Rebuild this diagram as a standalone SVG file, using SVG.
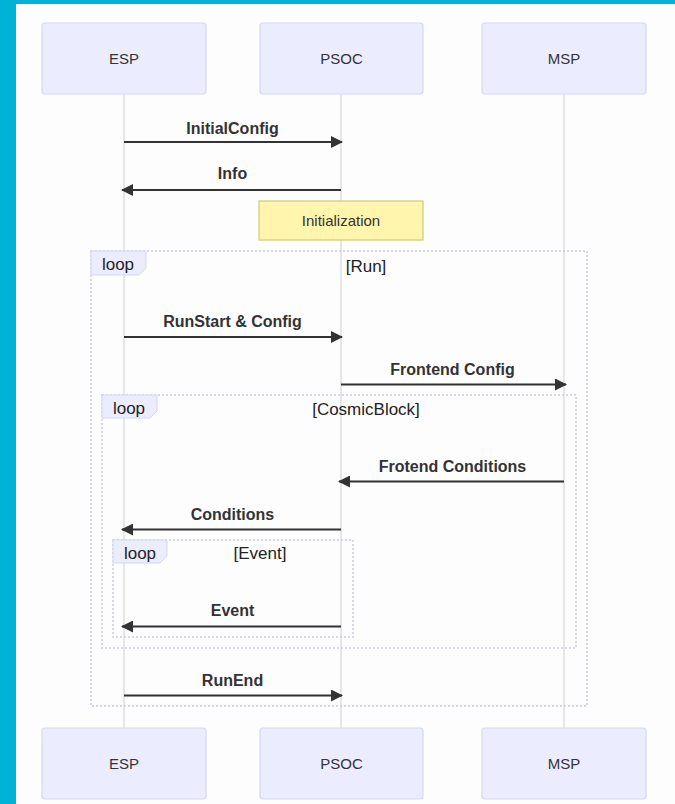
<svg xmlns="http://www.w3.org/2000/svg" width="675" height="804" viewBox="0 0 675 804">
<defs>
<style>
.actor{fill:#ececff;stroke:#d6d6f2;stroke-width:1.2}
.actorText{font-family:"Liberation Sans",Arial,sans-serif;font-size:15px;fill:#333;text-anchor:middle}
.life{stroke:#dedede;stroke-width:1.5}
.msg{stroke:#333;stroke-width:2;fill:none}
.msgText{font-family:"Liberation Sans",Arial,sans-serif;font-size:16px;font-weight:bold;fill:#333;text-anchor:middle}
.loopBox{fill:none;stroke:#c9c9e6;stroke-width:1.5;stroke-dasharray:2 2}
.labelBox{fill:#ececff;stroke:#d6d6f2;stroke-width:1}
.loopText{font-family:"Liberation Sans",Arial,sans-serif;font-size:17px;fill:#222}
.note{fill:#fff5ad;stroke:#cccc77;stroke-width:1.2}
.noteText{font-family:"Liberation Sans",Arial,sans-serif;font-size:15px;fill:#333;text-anchor:middle}
</style>
<marker id="arrow" viewBox="0 0 12 12" refX="11" refY="6" markerWidth="12" markerHeight="12" markerUnits="userSpaceOnUse" orient="auto">
<path d="M0,0 L12,6 L0,12 Z" fill="#333"/>
</marker>
</defs>
<rect x="0" y="0" width="675" height="804" fill="#00b2d6"/>
<rect x="16" y="4" width="659" height="800" fill="#fdfdfd"/>

<g id="lifelines">
<line class="life" x1="124" y1="94" x2="124" y2="728"/>
<line class="life" x1="341" y1="94" x2="341" y2="728"/>
<line class="life" x1="564" y1="94" x2="564" y2="728"/>
</g>

<g id="actor-esp-top"><rect class="actor" x="42" y="23" width="164" height="71" rx="3"/><text class="actorText" x="124" y="64">ESP</text></g>
<g id="actor-psoc-top"><rect class="actor" x="260" y="23" width="163" height="71" rx="3"/><text class="actorText" x="341.5" y="64">PSOC</text></g>
<g id="actor-msp-top"><rect class="actor" x="482" y="23" width="164" height="71" rx="3"/><text class="actorText" x="564" y="64">MSP</text></g>

<g id="actor-esp-bottom"><rect class="actor" x="42" y="728" width="164" height="71" rx="3"/><text class="actorText" x="124" y="769">ESP</text></g>
<g id="actor-psoc-bottom"><rect class="actor" x="260" y="728" width="163" height="71" rx="3"/><text class="actorText" x="341.5" y="769">PSOC</text></g>
<g id="actor-msp-bottom"><rect class="actor" x="482" y="728" width="164" height="71" rx="3"/><text class="actorText" x="564" y="769">MSP</text></g>

<g id="note-initialization"><rect class="note" x="259" y="201" width="164" height="39"/><text class="noteText" x="341" y="226">Initialization</text></g>

<g id="loop-run">
<rect class="loopBox" x="91" y="251" width="496" height="455"/>
<polygon class="labelBox" points="91,251 146,251 146,268 139,275 91,275"/>
<text class="loopText" x="118" y="270" text-anchor="middle">loop</text>
<text class="loopText" x="366" y="272" text-anchor="middle">[Run]</text>
</g>

<g id="loop-cosmicblock">
<rect class="loopBox" x="102" y="395" width="474" height="253"/>
<polygon class="labelBox" points="102,395 157,395 157,411 150,418 102,418"/>
<text class="loopText" x="129" y="414" text-anchor="middle">loop</text>
<text class="loopText" x="366" y="415" text-anchor="middle">[CosmicBlock]</text>
</g>

<g id="loop-event">
<rect class="loopBox" x="113" y="540" width="240" height="97"/>
<polygon class="labelBox" points="113,540 167,540 167,556 160,563 113,563"/>
<text class="loopText" x="140" y="559" text-anchor="middle">loop</text>
<text class="loopText" x="260" y="559" text-anchor="middle">[Event]</text>
</g>

<g id="connectors">
<line class="msg" x1="124" y1="142" x2="342" y2="142" marker-end="url(#arrow)"/>
<text class="msgText" x="232.5" y="133.5">InitialConfig</text>
<line class="msg" x1="341" y1="190" x2="122" y2="190" marker-end="url(#arrow)"/>
<text class="msgText" x="232.5" y="179">Info</text>
<line class="msg" x1="124" y1="337" x2="342" y2="337" marker-end="url(#arrow)"/>
<text class="msgText" x="232.5" y="327">RunStart &amp; Config</text>
<line class="msg" x1="341" y1="384.5" x2="566" y2="384.5" marker-end="url(#arrow)"/>
<text class="msgText" x="452.5" y="375">Frontend Config</text>
<line class="msg" x1="564" y1="481.5" x2="339" y2="481.5" marker-end="url(#arrow)"/>
<text class="msgText" x="452.5" y="471.5">Frotend Conditions</text>
<line class="msg" x1="341" y1="529.5" x2="122" y2="529.5" marker-end="url(#arrow)"/>
<text class="msgText" x="232.5" y="519.5">Conditions</text>
<line class="msg" x1="341" y1="626.5" x2="122" y2="626.5" marker-end="url(#arrow)"/>
<text class="msgText" x="232.5" y="616">Event</text>
<line class="msg" x1="124" y1="695.5" x2="342" y2="695.5" marker-end="url(#arrow)"/>
<text class="msgText" x="232.5" y="685.5">RunEnd</text>
</g>
</svg>
